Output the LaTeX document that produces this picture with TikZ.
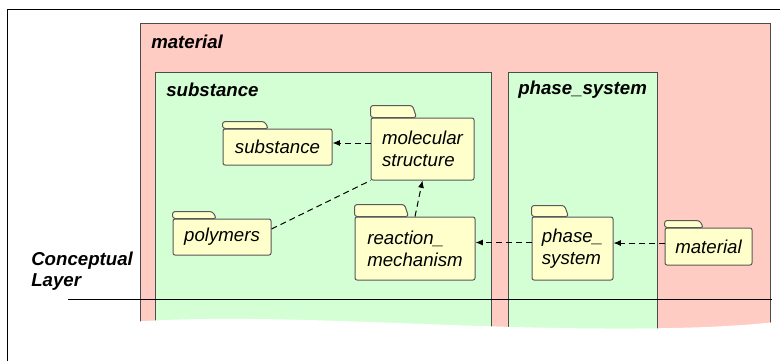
\documentclass[tikz,border=0pt]{standalone}
\usepackage{fontspec}
\setmainfont{Liberation Sans}
\usetikzlibrary{arrows.meta}

\definecolor{pkgpink}{RGB}{255,204,196}
\definecolor{pkggreen}{RGB}{212,255,212}
\definecolor{folderfill}{RGB}{255,255,204}

\tikzset{
  pkgbox/.style={draw=black!70, line width=0.75pt},
  pkglabel/.style={anchor=west, inner sep=0pt, font=\fontsize{14}{16}\selectfont\bfseries\itshape},
  folder/.style={draw=black!65, fill=folderfill, line width=0.75pt, rounded corners=1.5pt,
    inner sep=0pt, align=left, font=\fontsize{14}{16.5}\selectfont\itshape},
  foldertab/.style={draw=black!65, fill=folderfill, line width=0.75pt, rounded corners=2pt},
  dep/.style={line width=0.75pt, dash pattern=on 4.5pt off 3pt},
  deparrow/.style={dep, -{Latex[length=5.5pt,width=4.5pt]}},
}

% folder tab on top of a folder node: node, tab width, tab height
\newcommand{\foldertab}[3]{%
  \draw[foldertab] (#1.north west) -- ++(0,-#3) -- ++(#2,0) -- ++(4,#3) -- cycle;}

\begin{document}
\begin{tikzpicture}[x=0.75pt, y=-0.75pt]
    \useasboundingbox (0,0) rectangle (780,361);
    % packages
    \filldraw[pkgbox, fill=pkgpink] (140,23) rectangle (770,340);
    \node[pkglabel] (lmat) at (151,42) {material};
    \filldraw[pkgbox, fill=pkggreen] (155,72) rectangle (491,340);
    \node[pkglabel] (lsubst) at (166,90) {substance};
    \filldraw[pkgbox, fill=pkggreen] (508,72) rectangle (657,340);
    \node[pkglabel] (lphase) at (518,90) {phase\_system};

    % folders
    \node[folder, minimum width=81.75pt, minimum height=27pt] (fsubst) at (277.5,147) {substance};
    \foldertab{fsubst}{42}{7}
    \node[folder, minimum width=77.25pt, minimum height=46.5pt] (fmol) at (422.5,149) {molecular\\structure};
    \foldertab{fmol}{42}{12}
    \node[folder, minimum width=73.5pt, minimum height=27pt] (fpoly) at (222,237) {polymers};
    \foldertab{fpoly}{40}{7}
    \node[folder, minimum width=90pt, minimum height=47.25pt] (freact) at (415,248.5) {reaction\_\\mechanism};
    \foldertab{freact}{50}{12}
    \node[folder, minimum width=60.75pt, minimum height=47.25pt] (fphase) at (572.5,248.5) {phase\_\\system};
    \foldertab{fphase}{33}{11}
    \node[folder, minimum width=65.25pt, minimum height=27.75pt] (fmat) at (708.5,246.5) {material};
    \foldertab{fmat}{35}{7}

    % dependencies
    \draw[deparrow] ([yshift=4.5pt]fmol.west) -- ([yshift=3pt]fsubst.east);
    \draw[dep] ([yshift=6pt]fpoly.east) -- (fmol.south west);
    \draw[deparrow] (freact.north) -- (fmol.south);
    \draw[deparrow] ([yshift=4.5pt]fphase.west) -- ([yshift=4.5pt]freact.east);
    \draw[deparrow] ([yshift=2.6pt]fmat.west) -- ([yshift=4.1pt]fphase.east);

    % layer
    \draw[line width=0.75pt] (68,299) -- (772,299);
    \node[pkglabel, align=left] (llayer) at (31,271) {Conceptual\\Layer};

    % torn edge
    \fill[white] (130,322) .. controls (250,313) and (420,326) .. (560,328)
        .. controls (680,330) and (740,326) .. (775,322) -- (775,361) -- (130,361) -- cycle;
    \draw[line width=0.75pt] (7,361) -- (7,9) -- (780,9);
\end{tikzpicture}
\end{document}
